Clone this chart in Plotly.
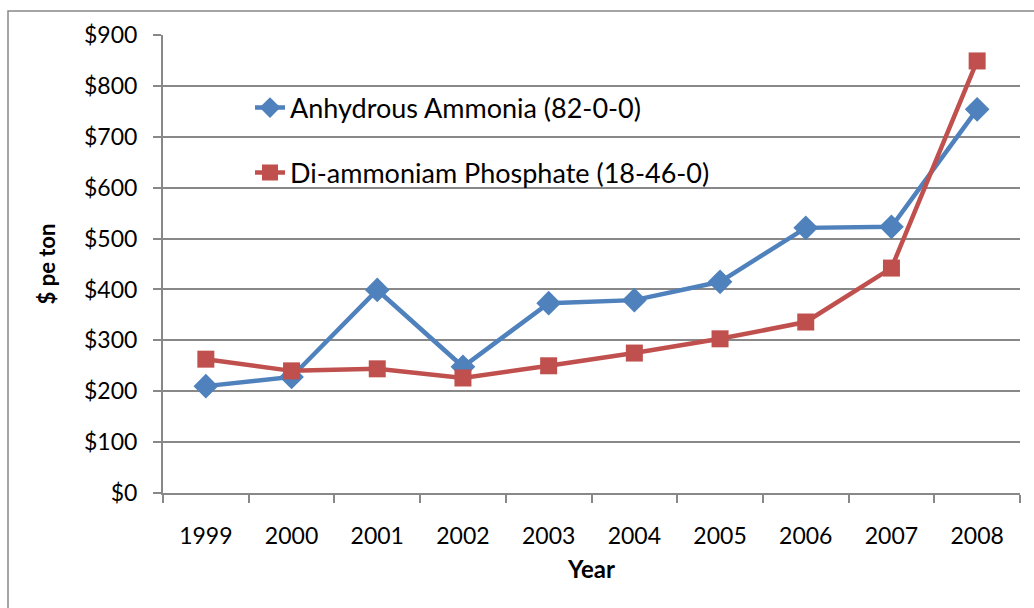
import plotly.graph_objects as go

years = ["1999", "2000", "2001", "2002", "2003", "2004", "2005", "2006", "2007", "2008"]
ammonia = [210, 228, 399, 248, 373, 379, 415, 521, 523, 754]
dap = [263, 240, 244, 226, 250, 275, 303, 336, 442, 849]
y_ticks = [0, 100, 200, 300, 400, 500, 600, 700, 800, 900]

FONT = "Lato"
GRID = "#888888"

fig = go.Figure()
fig.add_trace(go.Scatter(
    x=years, y=ammonia, mode="lines+markers", name="Anhydrous Ammonia (82-0-0)",
    line=dict(color="#4F81BD", width=4.5),
    marker=dict(symbol="diamond", size=19, color="#4F81BD"),
    legend="legend"))
fig.add_trace(go.Scatter(
    x=years, y=dap, mode="lines+markers", name="Di-ammoniam Phosphate (18-46-0)",
    line=dict(color="#C0504D", width=4.5),
    marker=dict(symbol="square", size=17, color="#C0504D"),
    legend="legend2"))

L, R, T, B = 163, 14, 35, 115
W, H = 1034, 608
pw, ph = W - L - R, H - T - B

def px_x(x):
    return (x - L) / pw

def px_y(y):
    return (H - B - y) / ph

fig.update_layout(
    width=W, height=H,
    margin=dict(l=L, r=R, t=T, b=B),
    paper_bgcolor="white", plot_bgcolor="white",
    font=dict(family=FONT, size=23, color="black"),
    showlegend=True,
    legend=dict(x=px_x(250), y=px_y(108), xanchor="left", yanchor="middle",
                bgcolor="rgba(0,0,0,0)", font=dict(size=27, family=FONT)),
    legend2=dict(x=px_x(250), y=px_y(173), xanchor="left", yanchor="middle",
                 bgcolor="rgba(0,0,0,0)", font=dict(size=27, family=FONT)),
    xaxis=dict(
        type="category", categoryorder="array", categoryarray=years,
        tickson="boundaries", ticks="outside", ticklen=8, tickcolor=GRID, tickwidth=2,
        showline=True, linecolor=GRID, linewidth=2, showgrid=False,
        tickfont=dict(size=23, family=FONT), ticklabelstandoff=21,
        title=dict(text="<b>Year</b>", font=dict(size=24, family=FONT), standoff=14),
        range=[-0.5, 9.5], fixedrange=True),
    yaxis=dict(
        range=[0, 900], tickvals=y_ticks, ticktext=["$" + str(v) for v in y_ticks],
        ticks="outside", ticklen=8, tickcolor=GRID, tickwidth=2,
        showline=True, linecolor=GRID, linewidth=2,
        showgrid=True, gridcolor=GRID, gridwidth=2, zeroline=False,
        tickfont=dict(size=23, family=FONT), ticklabelstandoff=11,
        title=dict(text="<b>$ pe ton</b>", font=dict(size=22, family=FONT), standoff=22),
        fixedrange=True),
)

fig.add_shape(type="rect", xref="paper", yref="paper",
              x0=px_x(8), x1=px_x(1045), y0=px_y(625), y1=px_y(11),
              line=dict(color=GRID, width=1.5), fillcolor="rgba(0,0,0,0)", layer="below")

fig.write_html("out.html", config={"displayModeBar": False},
               post_script="document.body.style.margin='0';document.body.style.overflow='hidden';")
